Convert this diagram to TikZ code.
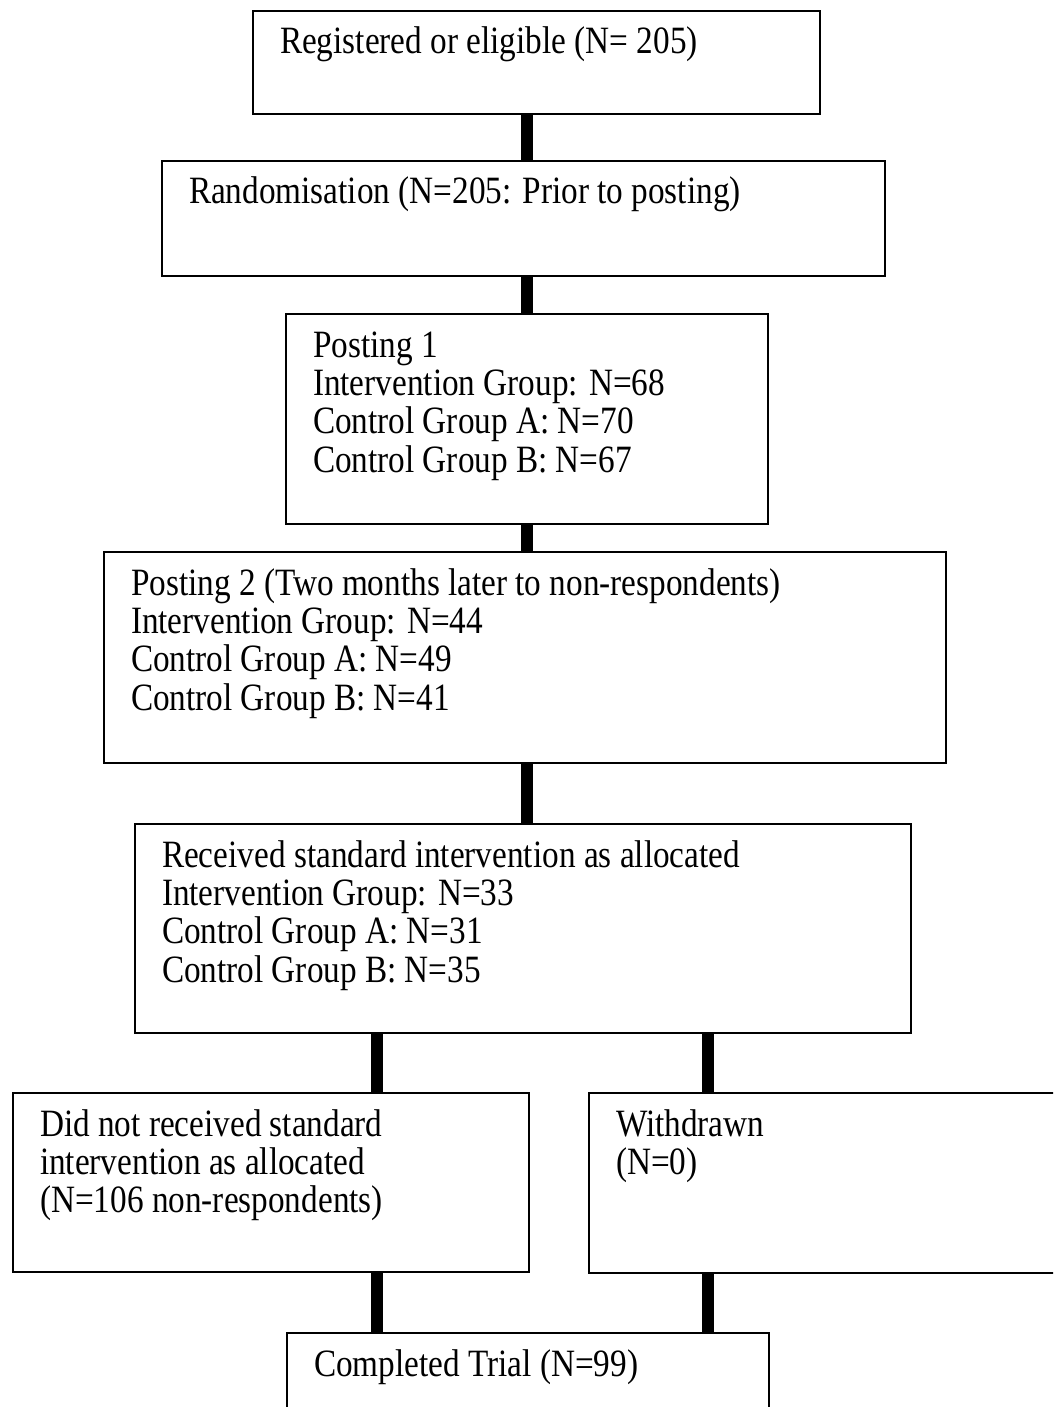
\documentclass[tikz,border=0pt]{standalone}
\usepackage{fontspec}
\setmainfont{Liberation Serif}[FakeStretch=0.86]
\usetikzlibrary{positioning}

\begin{document}
\begin{tikzpicture}[
    font=\fontsize{22}{21.9}\selectfont,
    flowbox/.style={draw, line width=1.2pt, anchor=north west, inner xsep=0.54cm, inner ysep=0.32cm},
    bar/.style={line width=0.24cm}
]
\path[use as bounding box, clip] (0,0) rectangle (21.06,-28.14);

% Main column
\node[flowbox] (reg) at (5.04,-0.2) {\parbox[t][1.42cm][t]{10.26cm}{\strut Registered or eligible (N= 205)}};
\node[flowbox] (rand) at (3.22,-3.2) {\parbox[t][1.66cm][t]{13.38cm}{\strut Randomisation (N=205: Prior to posting)}};
\node[flowbox] (post1) at (5.7,-6.26) {\parbox[t][3.56cm][t]{8.56cm}{\strut Posting 1\\Intervention Group: N=68\\Control Group A: N=70\\Control Group B: N=67}};
\node[flowbox] (post2) at (2.06,-11.02) {\parbox[t][3.58cm][t]{15.76cm}{\strut Posting 2 (Two months later to non-respondents)\\Intervention Group: N=44\\Control Group A: N=49\\Control Group B: N=41}};
\node[flowbox] (recv) at (2.68,-16.46) {\parbox[t][3.54cm][t]{14.44cm}{\strut Received standard intervention as allocated\\Intervention Group: N=33\\Control Group A: N=31\\Control Group B: N=35}};

% Split
\node[flowbox] (notrecv) at (0.24,-21.84) {\parbox[t][2.94cm][t]{9.24cm}{\strut Did not received standard\\intervention as allocated\\(N=106 non-respondents)}};
\node[flowbox] (withdr) at (11.76,-21.84) {\parbox[t][2.96cm][t]{8.46cm}{\strut Withdrawn\\(N=0)}};
\node[flowbox] (done) at (5.72,-26.64) {\parbox[t][1.76cm][t]{8.56cm}{\strut Completed Trial (N=99)}};

% Connectors
\coordinate (spine) at (10.54,0);
\coordinate (lbranch) at (7.54,0);
\coordinate (rbranch) at (14.16,0);
\draw[bar] (reg.south -| spine) -- (rand.north -| spine);
\draw[bar] (rand.south -| spine) -- (post1.north -| spine);
\draw[bar] (post1.south -| spine) -- (post2.north -| spine);
\draw[bar] (post2.south -| spine) -- (recv.north -| spine);
\draw[bar] (recv.south -| lbranch) -- (notrecv.north -| lbranch);
\draw[bar] (recv.south -| rbranch) -- (withdr.north -| rbranch);
\draw[bar] (notrecv.south -| lbranch) -- (done.north -| lbranch);
\draw[bar] (withdr.south -| rbranch) -- (done.north -| rbranch);
\end{tikzpicture}
\end{document}
